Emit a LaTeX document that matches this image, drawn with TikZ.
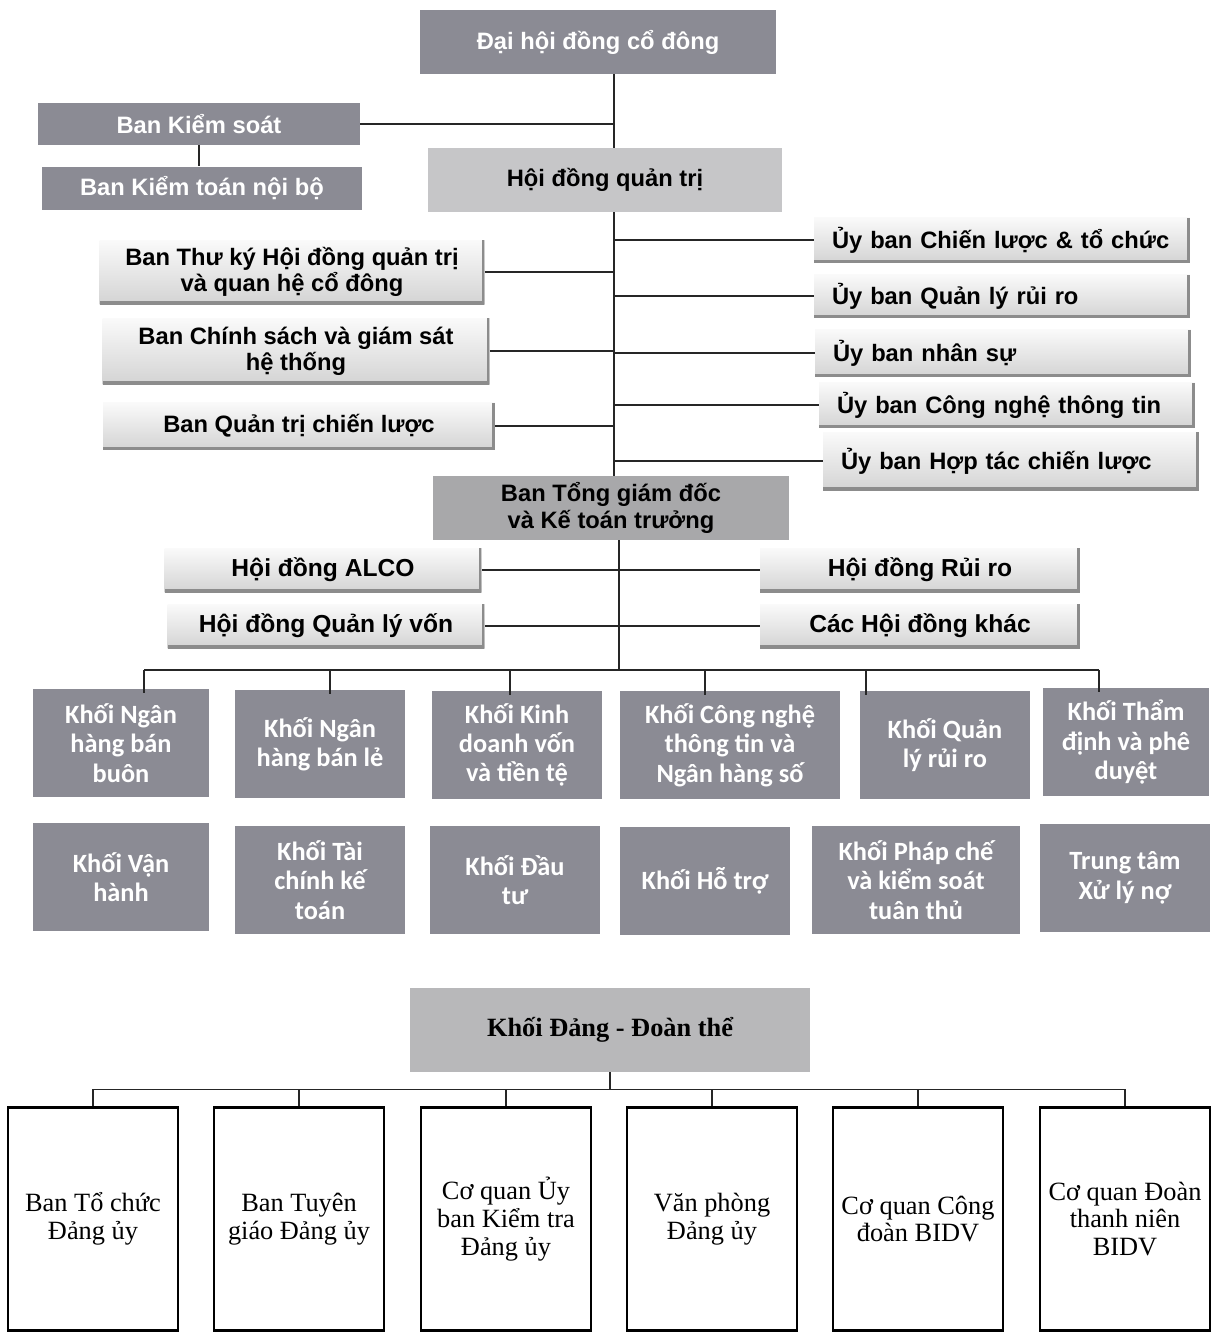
\documentclass[tikz,border=0pt]{standalone}
\usepackage{fontspec}
\setmainfont{Liberation Serif}
\newfontfamily\arialf{Liberation Sans}
\newfontfamily\calibf{Carlito}

\definecolor{boxdark}{HTML}{8B8B94}
\definecolor{boxmid}{HTML}{C6C6C8}
\definecolor{boxtgd}{HTML}{A8A8AA}
\definecolor{boxdang}{HTML}{B8B8BA}

\tikzstyle{darkbox} = [rectangle, fill=boxdark, text=white, font=\arialf\bfseries\fontsize{13.5}{15}\selectfont, align=center, inner sep=0pt]
\tikzstyle{greybox} = [rectangle, fill=boxmid, text=black, font=\arialf\bfseries\fontsize{13.5}{15}\selectfont, align=center, inner sep=0pt]
\tikzstyle{shadebox} = [rectangle, top color=black!2, bottom color=black!17, text=black, font=\arialf\bfseries\fontsize{13.5}{15}\selectfont, align=center, inner sep=0pt,
  path picture={\draw[black!45, line width=3pt] (path picture bounding box.north east) -- (path picture bounding box.south east) -- (path picture bounding box.south west);}]
\tikzstyle{ubox} = [shadebox, align=left, text width=6.8cm, inner xsep=0.36cm]
\tikzstyle{khoi} = [rectangle, fill=boxdark, text=white, font=\calibf\bfseries\fontsize{15}{16.7}\selectfont, align=center, inner sep=0pt, minimum height=2.16cm]
\tikzstyle{dangbox} = [rectangle, draw=black, line width=1.2pt, fill=white, font=\fontsize{15}{15.8}\selectfont, align=center, minimum width=3.4cm, minimum height=4.46cm]
\tikzstyle{conn} = [draw=black!85, line width=1pt]

\begin{document}
\begin{tikzpicture}[x=0.02cm, y=-0.02cm]
\useasboundingbox (0,0) rectangle (1212,1333);

\coordinate (tr) at (614,0);
\coordinate (tr2) at (619,0);

\node (dhcd) [darkbox, minimum width=7.14cm, minimum height=1.28cm] at (598,42) {Đại hội đồng cổ đông};
\node (bks) [darkbox, minimum width=6.44cm, minimum height=0.84cm] at (199,124) {Ban Kiểm soát};
\node (bktnb) [darkbox, minimum width=6.4cm, minimum height=0.86cm] at (202,188) {Ban Kiểm toán nội bộ};
\node (hdqt) [greybox, minimum width=7.08cm, minimum height=1.28cm] at (605,180) {Hội đồng quản trị};

\node (ub1) [ubox, minimum height=0.9cm] at (1002,240) {Ủy ban Chiến lược \& tổ chức};
\node (ub2) [ubox, minimum height=0.86cm] at (1002,296) {Ủy ban Quản lý rủi ro};
\node (ub3) [ubox, minimum height=0.94cm] at (1003,353) {Ủy ban nhân sự};
\node (ub4) [ubox, minimum height=0.9cm] at (1007,405) {Ủy ban Công nghệ thông tin};
\node (ub5) [ubox, minimum height=1.16cm] at (1011,461) {Ủy ban Hợp tác chiến lược};

\node (btk) [shadebox, minimum width=7.7cm, minimum height=1.28cm] at (292,272) {Ban Thư ký Hội đồng quản trị\\và quan hệ cổ đông};
\node (bcs) [shadebox, minimum width=7.74cm, minimum height=1.32cm] at (296,351) {Ban Chính sách và giám sát\\hệ thống};
\node (bqt) [shadebox, minimum width=7.84cm, minimum height=0.94cm] at (299,426) {Ban Quản trị chiến lược};

\node (tgd) [greybox, fill=boxtgd, minimum width=7.14cm, minimum height=1.28cm] at (611,508) {Ban Tổng giám đốc\\và Kế toán trưởng};

\node (alco) [shadebox, font=\arialf\bfseries\fontsize{14}{16}\selectfont, minimum width=6.34cm, minimum height=0.88cm] at (323,570) {Hội đồng ALCO};
\node (qlv) [shadebox, font=\arialf\bfseries\fontsize{14}{16}\selectfont, minimum width=6.34cm, minimum height=0.88cm] at (326,626) {Hội đồng Quản lý vốn};
\node (rr) [shadebox, font=\arialf\bfseries\fontsize{14}{16}\selectfont, minimum width=6.4cm, minimum height=0.88cm] at (920,570) {Hội đồng Rủi ro};
\node (khac) [shadebox, font=\arialf\bfseries\fontsize{14}{16}\selectfont, minimum width=6.4cm, minimum height=0.88cm] at (920,626) {Các Hội đồng khác};

\node (k1) [khoi, minimum width=3.54cm] at (121,743) {Khối Ngân\\hàng bán\\buôn};
\node (k2) [khoi, minimum width=3.4cm] at (320,744) {Khối Ngân\\hàng bán lẻ};
\node (k3) [khoi, minimum width=3.4cm] at (517,745) {Khối Kinh\\doanh vốn\\và tiền tệ};
\node (k4) [khoi, minimum width=4.4cm] at (730,745) {Khối Công nghệ\\thông tin và\\Ngân hàng số};
\node (k5) [khoi, minimum width=3.4cm] at (945,745) {Khối Quản\\lý rủi ro};
\node (k6) [khoi, minimum width=3.34cm] at (1126,742) {Khối Thẩm\\định và phê\\duyệt};

\node (k7) [khoi, minimum width=3.54cm] at (121,877) {Khối Vận\\hành};
\node (k8) [khoi, minimum width=3.4cm] at (320,880) {Khối Tài\\chính kế\\toán};
\node (k9) [khoi, minimum width=3.4cm] at (515,880) {Khối Đầu\\tư};
\node (k10) [khoi, minimum width=3.4cm] at (705,881) {Khối Hỗ trợ};
\node (k11) [khoi, minimum width=4.16cm] at (916,880) {Khối Pháp chế\\và kiểm soát\\tuân thủ};
\node (k12) [khoi, minimum width=3.4cm] at (1125,878) {Trung tâm\\Xử lý nợ};

\node (kdang) [rectangle, fill=boxdang, font=\bfseries\fontsize{15}{17}\selectfont, minimum width=8cm, minimum height=1.68cm] at (610,1030) {Khối Đảng - Đoàn thể};

\node (d1) [dangbox] at (93,1219) {Ban Tổ chức\\Đảng ủy};
\node (d2) [dangbox] at (299,1219) {Ban Tuyên\\giáo Đảng ủy};
\node (d3) [dangbox] at (506,1219) {Cơ quan Ủy\\ban Kiểm tra\\Đảng ủy};
\node (d4) [dangbox] at (712,1219) {Văn phòng\\Đảng ủy};
\node (d5) [dangbox] at (918,1219) {Cơ quan Công\\đoàn BIDV};
\node (d6) [dangbox] at (1125,1219) {Cơ quan Đoàn\\thanh niên\\BIDV};

\draw [conn] (dhcd.south -| tr) -- (hdqt.north -| tr);
\draw [conn] (bks.east) -- (bks.east -| tr);
\draw [conn] (bks.south) -- (bktnb.north -| bks.south);
\draw [conn] (hdqt.south -| tr) -- (tgd.north -| tr);
\foreach \n in {ub1,ub2,ub3,ub4,ub5,btk,bcs,bqt}
  \draw [conn] (\n) -- (\n -| tr);
\draw [conn] (alco.east) -- (rr.west);
\draw [conn] (qlv.east) -- (khac.west);
\draw [conn] (tgd.south -| tr2) -- (tr2 |- 0,670);
\draw [conn] (144,670) -- (1099,670);
\foreach \k/\x in {k1/144,k2/330,k3/510,k4/705,k5/866,k6/1099}
  \draw [conn] (\x,670) -- ([yshift=-0.08cm]\k.north -| \x,0);

\draw [conn] (kdang.south) -- ++(0,18);
\draw [conn] (d1.north) -- ++(0,-17) -| (d6.north);
\foreach \d in {d2,d3,d4,d5}
  \draw [conn] (\d.north) -- ++(0,-17);

\end{tikzpicture}
\end{document}
